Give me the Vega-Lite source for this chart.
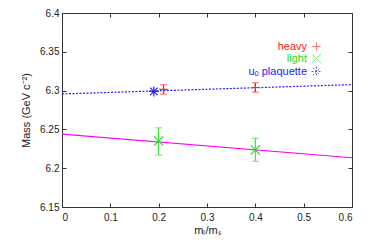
{
  "$schema": "https://vega.github.io/schema/vega-lite/v6.json",
  "width": 290,
  "height": 194,
  "autosize": {"type": "none"},
  "padding": {"left": 62, "top": 13, "right": 30, "bottom": 44},
  "config": {
    "font": "Liberation Sans",
    "view": {"stroke": "#333", "strokeWidth": 1},
    "axis": {"grid": false, "domain": false, "tickColor": "#333", "labelColor": "#222", "labelFontSize": 10, "titleFontSize": 10, "titleFontWeight": "normal", "titleColor": "#222", "labelFont": "Liberation Sans", "titleFont": "Liberation Sans"}
  },
  "datasets": {
    "pts": [
      {"series": "heavy", "x": 0.21, "y": 6.3015, "lo": 6.2955, "hi": 6.3075},
      {"series": "heavy", "x": 0.40, "y": 6.304, "lo": 6.298, "hi": 6.310},
      {"series": "light", "x": 0.20, "y": 6.235, "lo": 6.217, "hi": 6.252},
      {"series": "light", "x": 0.40, "y": 6.2235, "lo": 6.209, "hi": 6.2385},
      {"series": "uₒ plaquette", "x": 0.19, "y": 6.299, "lo": 6.299, "hi": 6.299}
    ],
    "fits": [
      {"fit": "plaquette", "x": 0, "y": 6.2957},
      {"fit": "plaquette", "x": 0.6, "y": 6.3077},
      {"fit": "light", "x": 0, "y": 6.244},
      {"fit": "light", "x": 0.6, "y": 6.2135}
    ]
  },
  "layer": [
    {
      "encoding": {
        "x": {"field": "x", "type": "quantitative", "scale": {"domain": [0, 0.6], "nice": false, "zero": false},
              "axis": {"title": "mₗ/mₛ", "values": [0, 0.1, 0.2, 0.3, 0.4, 0.5, 0.6], "format": "~g", "tickSize": -4, "labelPadding": 9, "titlePadding": 2, "titleFontSize": 11}},
        "y": {"field": "y", "type": "quantitative", "scale": {"domain": [6.15, 6.4], "nice": false, "zero": false},
              "axis": {"title": "Mass (GeV c⁻²)", "values": [6.15, 6.2, 6.25, 6.3, 6.35, 6.4], "format": "~g", "tickSize": -4, "labelPadding": 7, "titlePadding": 8, "titleFontSize": 11}}
      },
      "layer": [
        {
          "data": {"name": "fits"},
          "transform": [{"filter": "datum.fit === 'light'"}],
          "mark": {"type": "line", "color": "#ff00ff", "strokeWidth": 1.2},
          "encoding": {}
        },
        {
          "data": {"name": "fits"},
          "transform": [{"filter": "datum.fit === 'plaquette'"}],
          "mark": {"type": "line", "color": "#2222ff", "strokeWidth": 1.2, "strokeDash": [2, 1.5]},
          "encoding": {}
        },
        {
          "data": {"name": "pts"},
          "mark": {"type": "rule", "strokeWidth": 1},
          "encoding": {
            "y": {"field": "lo", "type": "quantitative"},
            "y2": {"field": "hi"},
            "color": {"field": "series", "type": "nominal"}
          }
        },
        {
          "data": {"name": "pts"},
          "mark": {"type": "tick", "orient": "horizontal", "size": 7, "thickness": 1},
          "encoding": {
            "y": {"field": "lo", "type": "quantitative"},
            "color": {"field": "series", "type": "nominal"}
          }
        },
        {
          "data": {"name": "pts"},
          "mark": {"type": "tick", "orient": "horizontal", "size": 7, "thickness": 1},
          "encoding": {
            "y": {"field": "hi", "type": "quantitative"},
            "color": {"field": "series", "type": "nominal"}
          }
        },
        {
          "data": {"name": "pts"},
          "mark": {"type": "point", "filled": false, "strokeWidth": 1.2, "opacity": 1},
          "encoding": {
            "shape": {"field": "series", "type": "nominal", "legend": null,
                      "scale": {"domain": ["heavy", "light", "uₒ plaquette"],
                                "range": ["M-1,0L1,0M0,-1L0,1", "M-1,-1L1,1M-1,1L1,-1", "M-1,0L1,0M0,-1L0,1M-0.75,-0.75L0.75,0.75M-0.75,0.75L0.75,-0.75"]}},
            "size": {"field": "series", "type": "nominal", "legend": null,
                     "scale": {"domain": ["heavy", "light", "uₒ plaquette"], "range": [70, 100, 100]}},
            "color": {"field": "series", "type": "nominal",
                      "scale": {"domain": ["heavy", "light", "uₒ plaquette"], "range": ["#ff2020", "#22dd22", "#2222ff"]},
                      "legend": {
                        "title": null, "orient": "top-right", "offset": 28,
                        "labelAlign": "right", "labelOffset": -15, "labelFontSize": 11,
                        "labelFont": "Liberation Sans",
                        "labelColor": {"expr": "scale('color', datum.value)"},
                        "symbolDash": {"expr": "datum.value === 'uₒ plaquette' ? [2, 1.5] : [1, 0]"},
                        "symbolSize": 100, "symbolStrokeWidth": 1, "rowPadding": -4
                      }}
          }
        }
      ]
    },
    {
      "data": {"name": "fits"},
      "mark": {"type": "line", "opacity": 0},
      "encoding": {
        "x": {"field": "x", "type": "quantitative", "scale": {"domain": [0, 0.6], "nice": false, "zero": false},
              "axis": {"orient": "top", "title": null, "labels": false, "values": [0, 0.1, 0.2, 0.3, 0.4, 0.5, 0.6], "tickSize": -4}},
        "y": {"field": "y", "type": "quantitative", "scale": {"domain": [6.15, 6.4], "nice": false, "zero": false},
              "axis": {"orient": "right", "title": null, "labels": false, "values": [6.15, 6.2, 6.25, 6.3, 6.35, 6.4], "tickSize": -4}}
      }
    }
  ],
  "resolve": {"axis": {"x": "independent", "y": "independent"}}
}
